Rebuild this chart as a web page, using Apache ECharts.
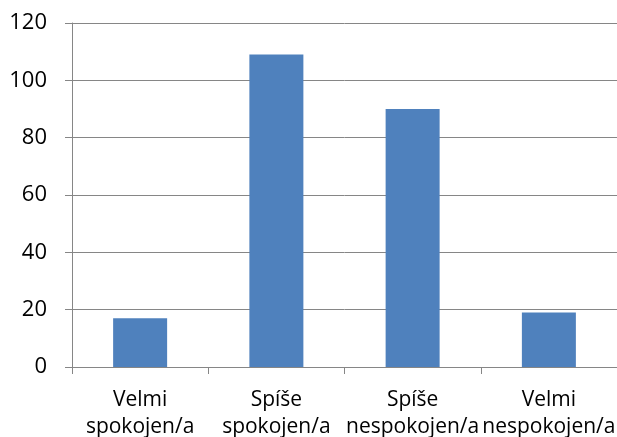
<!DOCTYPE html>
<html>
<head>
<meta charset="utf-8">
<script src="https://cdn.jsdelivr.net/npm/echarts@6/dist/echarts.min.js"></script>
<style>
  html, body { margin: 0; padding: 0; background: #fff; }
  #chart { width: 617px; height: 437px; }
</style>
</head>
<body>
<div id="chart"></div>
<script>
// kategorie a hodnoty
var categories = ['Velmi\nspokojen/a', 'Spíše\nspokojen/a', 'Spíše\nnespokojen/a', 'Velmi\nnespokojen/a'];
var values = [17, 109, 90, 19];
var yTicks = [0, 20, 40, 60, 80, 100, 120];

var chart = echarts.init(document.getElementById('chart'));
var option = {
    animation: false,
    grid: {
        left: 72,
        right: 0,
        top: 23,
        bottom: 70,
        outerBoundsMode: 'none',
        containLabel: false
    },
    xAxis: {
        type: 'category',
        data: categories,
        axisLine: { lineStyle: { color: '#868686', width: 1 } },
        axisTick: { show: true, length: 7, alignWithLabel: false, lineStyle: { color: '#868686' } },
        axisLabel: {
            interval: 0,
            margin: 20,
            color: '#000',
            fontFamily: 'Open Sans',
            fontSize: 21,
            lineHeight: 27
        }
    },
    yAxis: {
        type: 'value',
        min: yTicks[0],
        max: yTicks[yTicks.length - 1],
        interval: 20,
        axisLine: { show: true, lineStyle: { color: '#868686' } },
        axisTick: { show: true, length: 7, lineStyle: { color: '#868686' } },
        splitLine: { lineStyle: { color: '#868686', width: 1 } },
        axisLabel: {
            margin: 25,
            color: '#000',
            fontFamily: 'Open Sans',
            fontSize: 22
        }
    },
    series: [{
        type: 'bar',
        data: values,
        barWidth: 54,
        itemStyle: { color: '#4F81BD' }
    }]
};
chart.setOption(option);
</script>
</body>
</html>
